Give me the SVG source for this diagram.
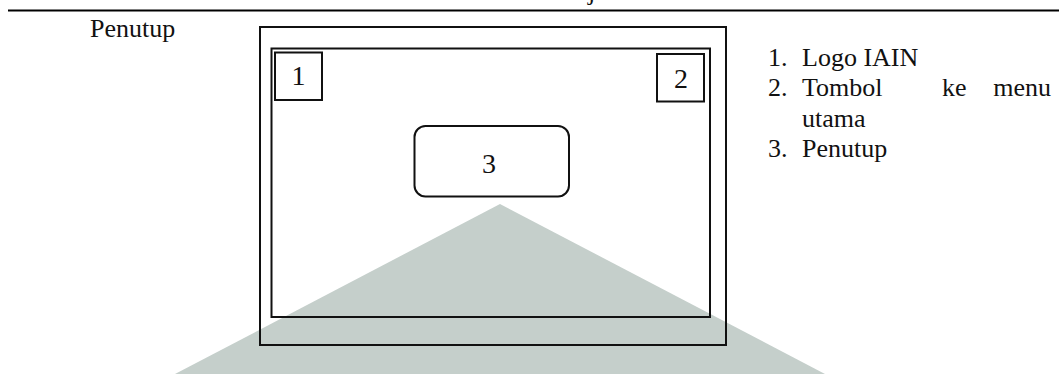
<svg xmlns="http://www.w3.org/2000/svg" width="1059" height="374" viewBox="0 0 1059 374">
  <style>
    .t { font-family: "Liberation Serif", "Times New Roman", serif; font-size: 26px; fill: #111; }
    .d { font-family: "Liberation Serif", "Times New Roman", serif; font-size: 28px; fill: #111; }
    .box { fill: none; stroke: #111; stroke-width: 2; }
  </style>
  <rect width="1059" height="374" fill="#ffffff"/>
  <text class="t" x="588" y="0">j</text>
  <line x1="8" y1="10.5" x2="1059" y2="10.5" stroke="#000" stroke-width="2.2"/>
  <text class="t" x="90" y="37">Penutup</text>
  <polygon points="500,204 825,374 175,374" fill="#c5cfcb"/>
  <g id="screen">
    <rect class="box" x="260" y="27" width="466" height="318"/>
    <rect class="box" x="271.5" y="48.5" width="438.5" height="268.5"/>
  </g>
  <g id="node1">
    <rect class="box" x="275" y="52.5" width="47" height="47.5"/>
    <text class="d" x="298.5" y="85" text-anchor="middle">1</text>
  </g>
  <g id="node2">
    <rect class="box" x="657" y="54" width="47" height="47.5"/>
    <text class="d" x="681" y="88" text-anchor="middle">2</text>
  </g>
  <g id="node3">
    <rect class="box" x="414.5" y="126" width="154.5" height="70.5" rx="11"/>
    <text class="d" x="489" y="173" text-anchor="middle">3</text>
  </g>
  <g id="connectors"></g>
  <g id="legend">
    <text class="t" x="768" y="66">1.</text>
    <text class="t" x="802" y="66">Logo IAIN</text>
    <text class="t" x="768" y="96">2.</text>
    <text class="t" x="802" y="96">Tombol</text>
    <text class="t" x="942" y="96">ke</text>
    <text class="t" x="1051" y="96" text-anchor="end">menu</text>
    <text class="t" x="802" y="126.5">utama</text>
    <text class="t" x="768" y="157">3.</text>
    <text class="t" x="802" y="157">Penutup</text>
  </g>
</svg>
